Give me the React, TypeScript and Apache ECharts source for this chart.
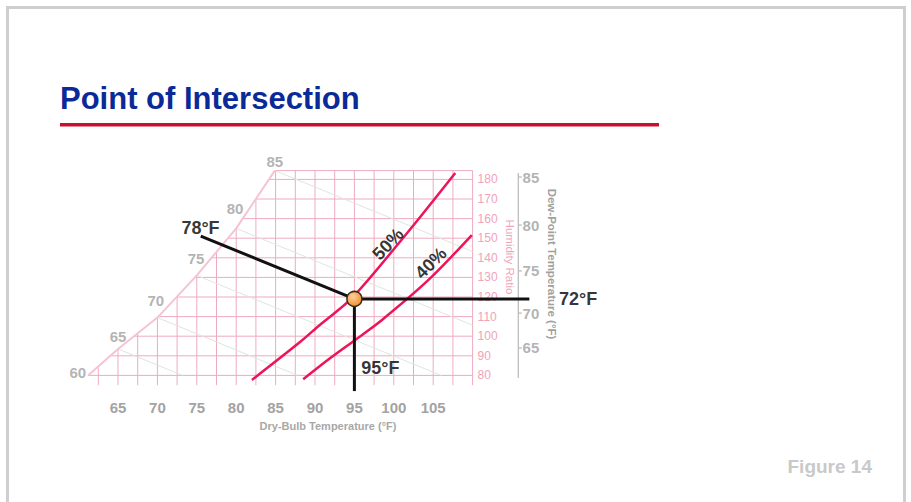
import React, { useEffect, useRef } from 'react';
import * as echarts from 'echarts';

const FONT = '"Liberation Sans", Arial, Helvetica, sans-serif';

// Dry-bulb temperature (°F) grid lines and labelled ticks
const dryBulbGrid = [62.5, 65, 67.5, 70, 72.5, 75, 77.5, 80, 82.5, 85, 87.5, 90, 92.5, 95, 97.5, 100, 102.5, 105, 107.5, 110];
const dryBulbLabels = [65, 70, 75, 80, 85, 90, 95, 100, 105];
// Humidity ratio (grains) grid lines / labels
const humidityGrid = [80, 90, 100, 110, 120, 130, 140, 150, 160, 170, 180];
const gridTopW = 184.5;
const gridBottomW = 75;
const gridLeftT = 59;
const gridRightT = 110;

// Saturation curve [dry bulb, grains]
const saturation = [[59.8, 75], [61.2, 80], [65, 93.5], [70, 109.5], [75, 131], [80, 155], [84.9, 184.5]];

// Wet-bulb scale labels along the saturation curve
const wetBulbNames = ['60', '65', '70', '75', '80', '85'];
const wetBulbPos = [[59.9, 81.7], [65, 99.6], [69.8, 118], [74.9, 139.4], [79.85, 164.9], [84.9, 188.9]];

// Faint wet-bulb lines
const wetBulbFaint = [
  [[65, 93.5], [73.2, 80]],
  [[70, 109.5], [87.8, 80]],
  [[75, 131], [106, 80]],
  [[80, 155], [110, 105.6]],
  [[84.9, 184.5], [110, 143.2]],
];

// Dew-point scale on the right
const dewPointNames = ['65', '70', '75', '80', '85'];
const dewPointW = [94, 111.8, 133.3, 156.7, 181.2];
const dewAxisT = 115.8;
const dewAxisRange = [78.7, 183.3];
const dewLabelT = 117.4;

// Relative humidity curves
const rh50 = [[82, 77.7], [88.1, 97], [90.6, 105.7], [94.7, 119.5], [101.8, 153.2], [107.8, 183.3]];
const rh40 = [[88.5, 78], [91.9, 88.7], [95.1, 98.1], [98.5, 108.3], [104.4, 128.7], [109.9, 151.6]];

// Point of intersection and its three lines
const point = [95, 119];
const wetBulbLine = [[75.5, 151.1], [95, 119]];
const dewPointLine = [[95, 119], [117.2, 119]];
const dryBulbLine = [[95, 119], [95, 72]];

// Annotations
const annotations = [
  { name: '78°F', value: [75.47, 155.2], rotate: 0 },
  { name: '72°F', value: [123.4, 119], rotate: 0 },
  { name: '95°F', value: [98.3, 83.8], rotate: 0 },
  { name: '50%', value: [99.26, 147.0], rotate: 47 },
  { name: '40%', value: [104.7, 137.3], rotate: 45 },
];

const PINK = '#eeabc0';

function segmentSeries(segments: number[][][], stroke: string, width: number, z: number) {
  return {
    type: 'custom', z, silent: true, clip: false,
    data: segments.map((s) => [s[0][0], s[0][1], s[1][0], s[1][1]]),
    renderItem: (_p: any, api: any) => {
      const a = api.coord([api.value(0), api.value(1)]);
      const b = api.coord([api.value(2), api.value(3)]);
      return {
        type: 'line',
        shape: { x1: a[0], y1: a[1], x2: b[0], y2: b[1] },
        style: { stroke, lineWidth: width, fill: null },
      };
    },
  };
}

export default function App() {
  const ref = useRef<HTMLDivElement>(null);
  useEffect(() => {
    if (!ref.current) return;
    const chart = echarts.init(ref.current, undefined, { renderer: 'svg' });

    const gridSegs: number[][][] = [];
    dryBulbGrid.forEach((t) => gridSegs.push([[t, gridBottomW], [t, gridTopW]]));
    humidityGrid.forEach((w) => gridSegs.push([[gridLeftT, w], [gridRightT, w]]));
    gridSegs.push([[gridLeftT, gridTopW], [gridRightT, gridTopW]]);

    const maskPoly = [...saturation, [84.9, 187], [gridLeftT - 1, 187], [gridLeftT - 1, gridBottomW]];

    const dewSegs: number[][][] = [[[dewAxisT, dewAxisRange[0]], [dewAxisT, dewAxisRange[1]]]];
    dewPointW.forEach((w) => dewSegs.push([[dewAxisT, w], [dewAxisT + 0.45, w]]));

    const option: any = {
      animation: false,
      backgroundColor: '#ffffff',
      grid: { left: 39.2, top: 159.8, width: 433.4, height: 235.2 },
      xAxis: {
        type: 'value', min: 55, max: 110, interval: 5,
        axisLine: { show: false }, axisTick: { show: false }, splitLine: { show: false },
        axisLabel: {
          margin: 5, color: '#a3a3a3', fontSize: 15, fontWeight: 'bold', fontFamily: FONT,
          formatter: (v: number) => (dryBulbLabels.includes(v) ? String(v) : ''),
        },
      },
      yAxis: {
        type: 'value', position: 'right', min: 70, max: 190, interval: 10,
        axisLine: { show: false }, axisTick: { show: false }, splitLine: { show: false },
        axisLabel: {
          margin: 5, color: '#f0a3b9', fontSize: 12, fontFamily: FONT, padding: [0, 0, 6, 0],
          formatter: (v: number) => (humidityGrid.includes(v) ? String(v) : ''),
        },
      },
      series: [
        segmentSeries(gridSegs, PINK, 1, 1),
        segmentSeries(wetBulbFaint, '#dce7df', 1, 2),
        {
          type: 'custom', z: 3, silent: true, clip: false,
          data: [[60, 100]],
          renderItem: (_params: any, api: any) => ({
            type: 'polygon',
            shape: { points: maskPoly.map((p) => api.coord(p)) },
            style: { fill: '#ffffff' },
          }),
        },
        {
          type: 'line', z: 4, symbol: 'none', silent: true, clip: false,
          lineStyle: { color: '#f5c4d3', width: 2 },
          data: saturation.slice(1),
        },
        segmentSeries(dewSegs, '#bdbdbd', 1.3, 4),
        {
          type: 'line', z: 5, symbol: 'none', smooth: 0.3, silent: true, clip: false,
          lineStyle: { color: '#ee1459', width: 2.5 },
          data: rh50,
        },
        {
          type: 'line', z: 5, symbol: 'none', smooth: 0.3, silent: true, clip: false,
          lineStyle: { color: '#ee1459', width: 2.5 },
          data: rh40,
        },
        segmentSeries([wetBulbLine, dewPointLine, dryBulbLine], '#111111', 3, 6),
        {
          type: 'scatter', z: 7, clip: false, symbol: 'circle', symbolSize: 15, silent: true,
          itemStyle: {
            opacity: 1,
            color: new echarts.graphic.RadialGradient(0.4, 0.35, 0.7, [
              { offset: 0, color: '#ffd29a' },
              { offset: 1, color: '#f08a2a' },
            ]),
            borderColor: '#3a2c1e', borderWidth: 1.5,
          },
          data: [point],
        },
        {
          type: 'scatter', z: 8, clip: false, symbolSize: 0, silent: true,
          label: {
            show: true, position: 'inside', formatter: '{b}',
            color: '#a0a0a0', fontSize: 15, fontWeight: 'bold', fontFamily: FONT,
          },
          data: wetBulbNames.map((n, i) => ({ name: n, value: wetBulbPos[i] })),
        },
        {
          type: 'scatter', z: 8, clip: false, symbolSize: 0, silent: true,
          label: {
            show: true, position: 'inside', formatter: '{b}',
            color: '#a0a0a0', fontSize: 15, fontWeight: 'bold', fontFamily: FONT,
          },
          data: dewPointNames.map((n, i) => ({ name: n, value: [dewLabelT, dewPointW[i]] })),
        },
        {
          type: 'scatter', z: 9, clip: false, symbolSize: 0, silent: true,
          data: annotations.map((a) => ({
            name: a.name, value: a.value,
            label: {
              show: true, position: 'inside', formatter: '{b}', rotate: a.rotate,
              color: '#000000', fontSize: 18, fontWeight: 'bold', fontFamily: FONT,
            },
          })),
        },
      ],
      graphic: [
        {
          type: 'rect', z: -10, silent: true,
          shape: { x: 7.5, y: 7.5, width: 897, height: 530 },
          style: { fill: 'none', stroke: '#cfcfcf', lineWidth: 3 },
        },
        {
          type: 'text', x: 60, y: 98.6, silent: true,
          style: { text: 'Point of Intersection', fill: '#0b2a97', fontSize: 31, fontWeight: 'bold', fontFamily: FONT, align: 'left', verticalAlign: 'middle' },
        },
        {
          type: 'rect', silent: true,
          shape: { x: 60, y: 123, width: 599, height: 3.5 },
          style: { fill: '#c8102e' },
        },
        {
          type: 'text', x: 872, y: 466, silent: true,
          style: { text: 'Figure 14', fill: '#c9c9c9', fontSize: 19, fontWeight: 'bold', fontFamily: FONT, align: 'right', verticalAlign: 'middle' },
        },
        {
          type: 'text', x: 143, y: 227, rotation: Math.PI / 4, silent: true,
          style: { text: 'Wet-Bulb Temperature (°F)', fill: '#b0b0b0', fontSize: 11, fontWeight: 'bold', fontFamily: FONT, align: 'center', verticalAlign: 'middle' },
        },
        {
          type: 'text', x: 328, y: 426, silent: true,
          style: { text: 'Dry-Bulb Temperature (°F)', fill: '#a8a8a8', fontSize: 11, fontWeight: 'bold', fontFamily: FONT, align: 'center', verticalAlign: 'middle' },
        },
        {
          type: 'text', x: 552, y: 264, rotation: -Math.PI / 2, silent: true,
          style: { text: 'Dew-Point Temperature (°F)', fill: '#a0a0a0', fontSize: 11.5, fontWeight: 'bold', fontFamily: FONT, align: 'center', verticalAlign: 'middle' },
        },
        {
          type: 'text', x: 510, y: 257, rotation: -Math.PI / 2, silent: true,
          style: { text: 'Humidity Ratio', fill: '#f2a6bc', fontSize: 11.5, fontFamily: FONT, align: 'center', verticalAlign: 'middle' },
        },
      ],
    };
    chart.setOption(option);
    return () => chart.dispose();
  }, []);
  return <div ref={ref} style={{ position: 'fixed', left: 0, top: 0, width: 911, height: 502, background: '#fff' }} />;
}
